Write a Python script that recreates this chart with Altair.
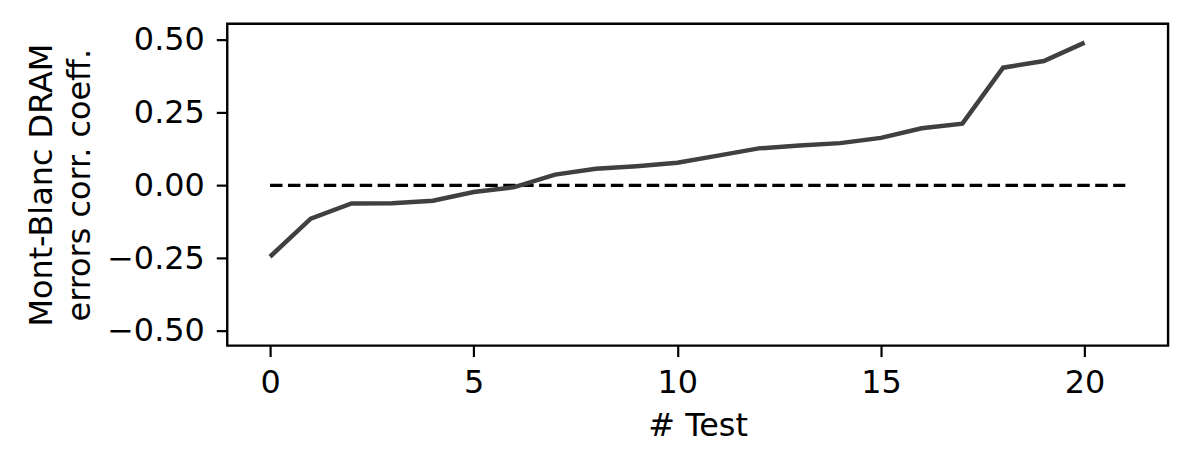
import altair as alt
import pandas as pd

tests = list(range(21))
corr = [-0.245, -0.114, -0.062, -0.061, -0.053, -0.023, -0.006, 0.037, 0.057,
        0.066, 0.078, 0.102, 0.127, 0.137, 0.145, 0.163, 0.196, 0.212, 0.404,
        0.427, 0.490]
ref_x = [0, 21]
ref_y = [0.0, 0.0]

df = pd.DataFrame({"test": tests, "corr": corr})
ref = pd.DataFrame({"test": ref_x, "corr": ref_y})

FONT = "DejaVu Sans"

x_enc = alt.X("test:Q", title="# Test",
              scale=alt.Scale(domain=[-1.05, 22.05], nice=False, zero=False),
              axis=alt.Axis(values=[0, 5, 10, 15, 20], format="d", grid=False,
                            tickSize=11, tickWidth=2.2, tickColor="black",
                            domain=False, labelPadding=11, titlePadding=12,
                            labelFontSize=32, titleFontSize=32,
                            labelFont=FONT, titleFont=FONT,
                            labelColor="black", titleColor="black",
                            titleFontWeight="normal"))
y_enc = alt.Y("corr:Q",
              title=["Mont-Blanc DRAM", "errors corr. coeff."],
              scale=alt.Scale(domain=[-0.55, 0.555], nice=False, zero=False),
              axis=alt.Axis(values=[-0.5, -0.25, 0, 0.25, 0.5], format=".2f",
                            grid=False, tickSize=11, tickWidth=2.2,
                            tickColor="black", domain=False, labelPadding=12,
                            titlePadding=10, titleLineHeight=38,
                            labelFontSize=32, titleFontSize=32,
                            labelFont=FONT, titleFont=FONT,
                            labelColor="black", titleColor="black",
                            titleFontWeight="normal"))

ref_line = alt.Chart(ref).mark_line(color="black", strokeWidth=3.2,
                                    strokeDash=[12.5, 5.5]).encode(
    x=x_enc, y=y_enc)
main_line = alt.Chart(df).mark_line(color="#404040", strokeWidth=4.5).encode(
    x="test:Q", y="corr:Q")

chart = (ref_line + main_line).properties(
    width=944, height=323,
    autosize=alt.AutoSizeParams(type="none"),
    padding={"left": 220, "top": 15, "right": 20, "bottom": 100},
    background="white",
).configure_view(stroke="black", strokeWidth=2.4)

chart.save("out.html", embed_options={"renderer": "svg", "actions": False})
